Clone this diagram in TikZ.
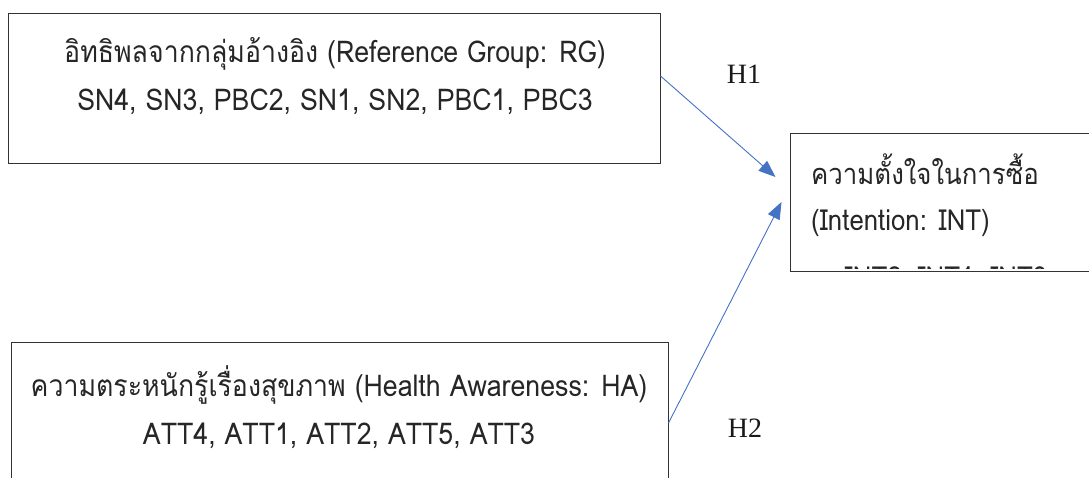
\documentclass[tikz,border=0pt]{standalone}
\usepackage{fontspec}
\setmainfont{Liberation Serif}
\newfontfamily\thaifont[Script=Thai,FakeStretch=0.89]{Loma}
\usetikzlibrary{arrows.meta,calc}

\definecolor{linkblue}{RGB}{68,114,196}
\tikzset{
  framebox/.style={draw=black!80, line width=1pt, minimum width=#1, inner sep=0pt},
  boxtext/.style={font=\thaifont\fontsize{30}{48}\selectfont, inner sep=0pt, align=center, text=black!85},
  smalltext/.style={boxtext, font=\thaifont\fontsize{29}{46}\selectfont},
  linkarrow/.style={draw=linkblue, line width=0.9pt,
    -{Triangle[length=17pt,width=13pt]}},
  hlabel/.style={font=\fontsize{28}{30}\selectfont, inner sep=0pt, text=black!90}
}

\begin{document}
\begin{tikzpicture}[x=1pt,y=-1pt]
  \clip (0,0) rectangle (1089,477);
  \useasboundingbox (0,0) rectangle (1089,477);

  % construct boxes
  \node[framebox=652pt, minimum height=150pt] (rg) at (334,88) {};
  \node[framebox=657pt, minimum height=148pt] (ha) at (339.5,416) {};
  \node[framebox=310pt, minimum height=138pt] (int) at (945,202) {};

  % box texts
  \node[boxtext] (rgt) at (335,76)
    {อิทธิพลจากกลุ่มอ้างอิง (Reference Group: RG)\\SN4, SN3, PBC2, SN1, SN2, PBC1, PBC3};
  \node[boxtext] (hat) at (339,407)
    {ความตระหนักรู้เรื่องสุขภาพ (Health Awareness: HA)\\ATT4, ATT1, ATT2, ATT5, ATT3};
  \node[smalltext, align=left, anchor=west] (intt) at (811,195)
    {ความตั้งใจในการซื้อ\\(Intention: INT)};
  \begin{scope}
    \clip ([yshift=3pt]int.south west) rectangle (int.north east);
    \node[smalltext] (intv) at (946,279) {INT2, INT1, INT3};
  \end{scope}

  % hypothesis paths
  \draw[linkarrow] ([yshift=12pt]rg.east) -- ([xshift=-14pt,yshift=25pt]int.west);
  \draw[linkarrow] ([yshift=-7pt]ha.east) -- ([xshift=-8pt]int.west);

  \node[hlabel] (h1) at (744,74) {H1};
  \node[hlabel] (h2) at (745,428) {H2};
\end{tikzpicture}
\end{document}
